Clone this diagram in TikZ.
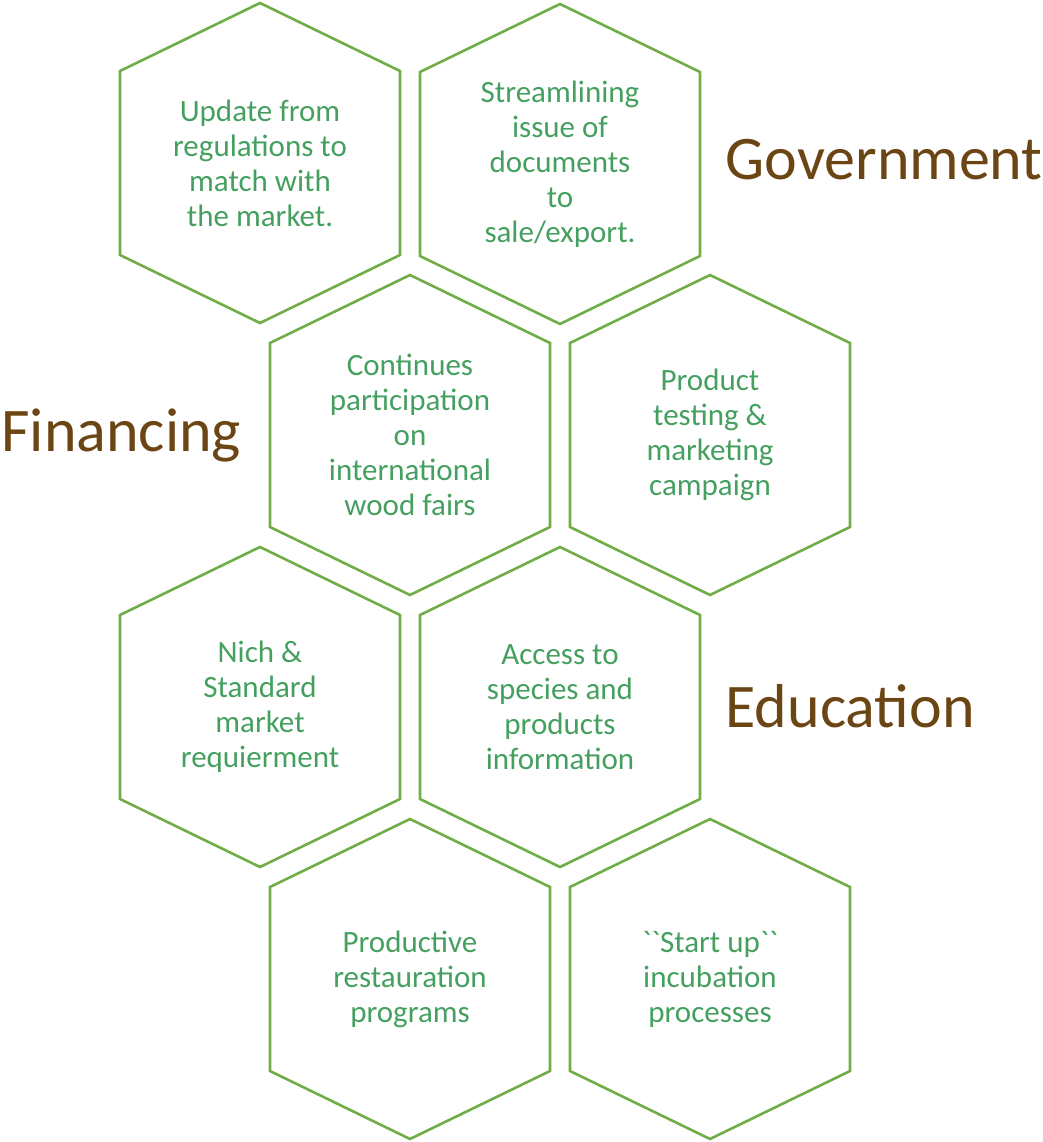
\documentclass[tikz,border=0pt]{standalone}
\usepackage{fontspec}
\setmainfont{Carlito}
\definecolor{hexline}{HTML}{70AD47}
\definecolor{hextext}{HTML}{45A060}
\definecolor{areatext}{HTML}{6B4513}

\tikzset{
  hexcell/.style={draw=hexline, line width=2.6pt, line join=miter},
  hexlabel/.style={text=hextext, align=center,
    font=\fontsize{31}{35}\selectfont},
  arealabel/.style={text=areatext,
    font=\fontsize{62}{68}\selectfont}
}

% hexagon with its text: name, centre x, centre y, text
\newcommand{\hexcell}[4]{%
  \draw[hexcell]
    (#2,#3-160) -- (#2+140,#3-92) -- (#2+140,#3+92)
    -- (#2,#3+160) -- (#2-140,#3+92) -- (#2-140,#3-92) -- cycle;
  \node[hexlabel] (#1) at (#2,#3) {#4};
}
\newcommand{\grv}{{\addfontfeatures{Ligatures=TeXOff}`}}

\begin{document}
\begin{tikzpicture}[
  x=1pt,
  y=-1pt
]
  \useasboundingbox (0,0) rectangle (1043,1142);

  % Erste Reihe
  \hexcell{regul}{260}{163}{Update from\\regulations to\\match with\\the market.}
  \hexcell{docs}{560}{164}{Streamlining\\issue of\\documents\\to\\sale/export.}

  % Zweite Reihe
  \hexcell{fairs}{410}{435}{Continues\\participation\\on\\international\\wood fairs}
  \hexcell{testing}{710}{435}{Product\\testing \&\\marketing\\campaign}

  % Dritte Reihe
  \hexcell{niche}{260}{707}{Nich \&\\Standard\\market\\requierment}
  \hexcell{access}{560}{707}{Access to\\species and\\products\\information}

  % Vierte Reihe
  \hexcell{restor}{410}{979}{Productive\\restauration\\programs}
  \hexcell{startup}{710}{979}{\grv\grv Start up\grv\grv\\incubation\\processes}

  % Bereiche
  \node[arealabel, anchor=west] (gov) at (722,160) {Government};
  \node[arealabel, anchor=west] (fin) at (-2,435) {Financing};
  \node[arealabel, anchor=west] (edu) at (722,706) {Education};
\end{tikzpicture}
\end{document}
